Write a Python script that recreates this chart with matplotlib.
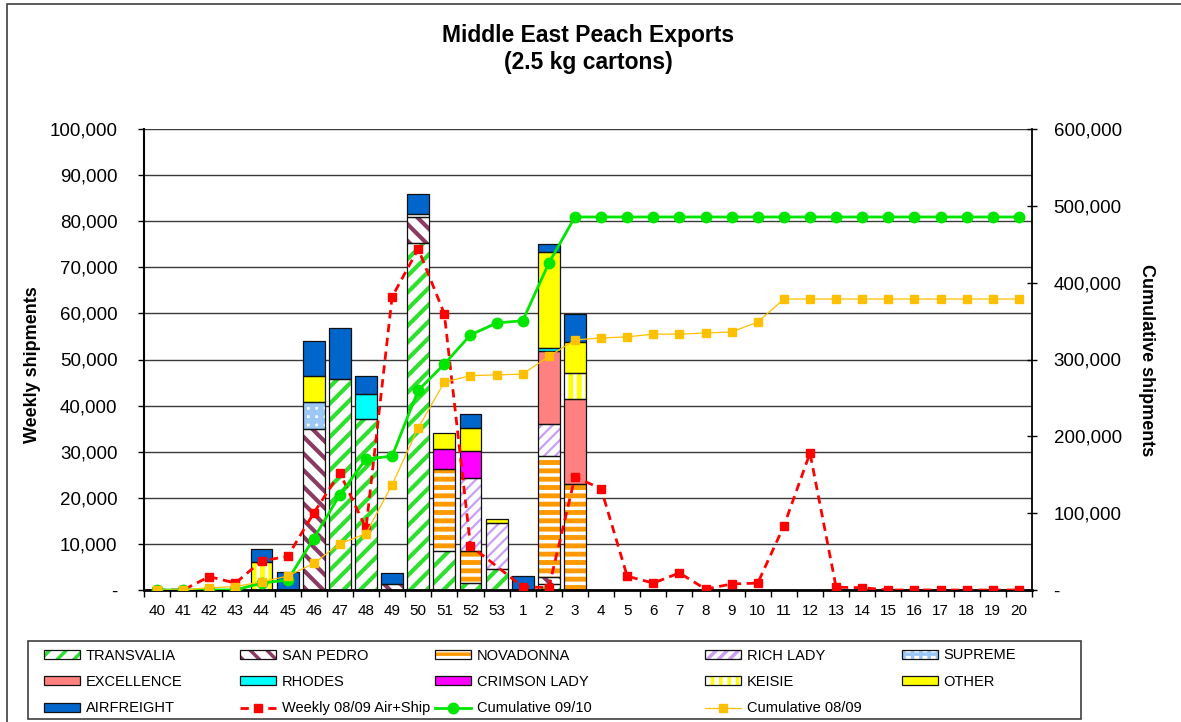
import numpy as np
import matplotlib
matplotlib.use("Agg")
import matplotlib.pyplot as plt
import matplotlib.patches as mpatches
from matplotlib.ticker import FuncFormatter

plt.rcParams["font.family"] = ["Liberation Sans", "DejaVu Sans"]
plt.rcParams["hatch.linewidth"] = 2.5

# week numbers (season 09/10)
weeks = [str(w) for w in list(range(40, 54)) + list(range(1, 21))]

# weekly shipments per variety (cartons), same order as weeks
transvalia = [0, 0, 0, 0, 0, 0, 0, 45800, 37000, 0, 75300, 8500, 1600, 4500, 0, 1300, 0] + [0] * 17
san_pedro = [0, 0, 0, 0, 0, 0, 35000, 0, 0, 1300, 5700, 0, 0, 0, 0, 1500, 0] + [0] * 17
novadonna = [0, 0, 0, 0, 0, 0, 0, 0, 0, 0, 600, 17700, 6900, 0, 0, 26300, 23000] + [0] * 17
rich_lady = [0, 0, 0, 0, 0, 0, 0, 0, 0, 0, 0, 0, 15800, 10000, 0, 6900, 0] + [0] * 17
supreme = [0, 0, 0, 0, 0, 0, 5800, 0, 0, 0, 0, 0, 0, 0, 0, 0, 0] + [0] * 17
excellence = [0, 0, 0, 0, 0, 0, 0, 0, 0, 0, 0, 0, 0, 0, 0, 15900, 18400] + [0] * 17
rhodes = [0, 0, 0, 0, 0, 0, 0, 0, 5500, 0, 0, 0, 0, 0, 0, 600, 0] + [0] * 17
crimson_lady = [0, 0, 0, 0, 0, 0, 0, 0, 0, 0, 0, 4400, 5900, 0, 0, 0, 0] + [0] * 17
keisie = [0, 0, 0, 0, 6000, 0, 0, 0, 0, 0, 0, 0, 0, 0, 0, 0, 5700] + [0] * 17
other = [0, 0, 0, 0, 0, 0, 5600, 0, 0, 0, 0, 3400, 4900, 1000, 0, 20800, 6700] + [0] * 17
airfreight = [0, 0, 0, 0, 3000, 4000, 7600, 11000, 4000, 2400, 4300, 0, 3100, 0, 3000, 1700, 6100] + [0] * 17

# previous season weekly (no week 53 in 08/09)
weekly_0809 = [0, 0, 2900, 1500, 6300, 7300, 16700, 25400, 13400, 63600, 74000, 59900, 9600, np.nan,
               700, 500, 24500, 22000, 3000, 1500, 3700, 200, 1300, 1500, 13900, 29700, 600, 500,
               0, 0, 0, 0, 0, 0]

# cumulative shipments (right axis)
cum_0910 = [0, 0, 0, 0, 9000, 13000, 67000, 124000, 170500, 174200, 260000, 294000, 332000, 347500,
            350500, 425500] + [485500] * 18
cum_0809 = [0, 0, 2900, 4400, 10700, 18000, 34700, 60100, 73500, 137000, 211000, 270500, 279000,
            280000, 281000, 304000, 325500, 328000, 329500, 333000, 333000, 334500, 335800, 348800] + [378700] * 10

# (label, values, face colour, hatch colour, hatch, hatch linewidth)
varieties = [
    ("TRANSVALIA", transvalia, "white", "#2EE02E", "//", 3.0),
    ("SAN PEDRO", san_pedro, "white", "#8B3A62", "\\\\", 3.0),
    ("NOVADONNA", novadonna, "white", "#FF9900", "--", 3.5),
    ("RICH LADY", rich_lady, "white", "#C9A0F5", "///", 1.6),
    ("SUPREME", supreme, "white", "#9CC8F5", "++", 4.0),
    ("EXCELLENCE", excellence, "#FF8080", None, None, 1.0),
    ("RHODES", rhodes, "#00FFFF", None, None, 1.0),
    ("CRIMSON LADY", crimson_lady, "#FF00FF", None, None, 1.0),
    ("KEISIE", keisie, "white", "#FFFF00", "||", 3.5),
    ("OTHER", other, "#FFFF00", None, None, 1.0),
    ("AIRFREIGHT", airfreight, "#0066CC", None, None, 1.0),
]


def hatch_lw(artists, lw):
    # per patch hatch width when the installed matplotlib supports it
    for a in artists:
        if hasattr(a, "set_hatch_linewidth"):
            a.set_hatch_linewidth(lw)


W, H = 1181, 722
fig = plt.figure(figsize=(W / 100, H / 100), dpi=100)
ax = fig.add_axes([144 / W, 1 - 590 / H, 888 / W, 461 / H])
ax2 = ax.twinx()

x = np.arange(len(weeks))
bar_w = 0.84
bottom = np.zeros(len(weeks))
handles = {}
for name, vals, face, hcol, hatch, hlw in varieties:
    vals = np.array(vals, dtype=float)
    m = vals > 0
    if hatch:
        bars = ax.bar(x[m], vals[m], bottom=bottom[m], width=bar_w, color=face,
                      edgecolor=hcol, hatch=hatch, linewidth=0, zorder=2)
        hatch_lw(bars, hlw)
        fill_h = mpatches.Patch(facecolor=face, edgecolor=hcol, hatch=hatch, linewidth=0)
        hatch_lw([fill_h], hlw)
    else:
        ax.bar(x[m], vals[m], bottom=bottom[m], width=bar_w, color=face, linewidth=0, zorder=2)
        fill_h = mpatches.Patch(facecolor=face, linewidth=0)
    ax.bar(x[m], vals[m], bottom=bottom[m], width=bar_w, fill=False,
           edgecolor="#111111", linewidth=0.9, zorder=3)
    edge_h = mpatches.Patch(fill=False, edgecolor="#111111", linewidth=0.9)
    handles[name] = (fill_h, edge_h)
    bottom += vals

# weekly 08/09 line (skip the missing week so the line stays connected)
wk = np.array(weekly_0809, dtype=float)
ok = ~np.isnan(wk)
red, = ax.plot(x[ok], wk[ok], color="#FF0000", ls=(0, (3, 2)), lw=2, marker="s",
               markersize=6, zorder=4)

green, = ax2.plot(x, cum_0910, color="#00E600", lw=2, marker="o", markersize=7.5, zorder=5)
orange, = ax2.plot(x, cum_0809, color="#FFC000", lw=0.9, marker="s", markersize=5.5, zorder=6)

# axes
ax.set_xlim(-0.5, len(weeks) - 0.5)
ax.set_ylim(0, 100000)
ax2.set_ylim(0, 600000)

dash_fmt = FuncFormatter(lambda v, p: "-" if v == 0 else f"{v:,.0f}")
ax.set_yticks(np.arange(0, 100001, 10000))
ax.yaxis.set_major_formatter(dash_fmt)
ax2.set_yticks(np.arange(0, 600001, 100000))
ax2.yaxis.set_major_formatter(dash_fmt)

ax.set_xticks(x)
ax.set_xticklabels(weeks)
ax.set_xticks(np.arange(-0.5, len(weeks)), minor=True)
ax.tick_params(axis="x", which="major", length=0, pad=10, labelsize=11)
ax.tick_params(axis="x", which="minor", length=5, width=1, color="black", direction="out")
ax.tick_params(axis="y", length=4, width=1, color="black", direction="out", pad=15, labelsize=13.5)
ax2.tick_params(axis="y", length=7, width=1, color="black", direction="inout", pad=12, labelsize=13.5)

ax.yaxis.grid(True, color="#3a3a3a", lw=1)
ax.set_axisbelow(True)

for s in ["top", "right"]:
    ax.spines[s].set_visible(False)
for s in ["top", "left", "bottom"]:
    ax2.spines[s].set_visible(False)
ax.spines["left"].set_linewidth(1.5)
ax.spines["bottom"].set_linewidth(2)
ax2.spines["right"].set_linewidth(1.3)

# titles and axis labels
fig.text(588 / W, 1 - 49 / H, "Middle East Peach Exports\n(2.5 kg cartons)", ha="center",
         va="center", fontsize=16.5, fontweight="bold", linespacing=1.2)
fig.text(33 / W, 1 - 365 / H, "Weekly shipments", rotation=90, ha="center", va="center",
         fontsize=13, fontweight="bold")
fig.text(1147 / W, 1 - 360 / H, "Cumulative shipments", rotation=270, ha="center", va="center",
         fontsize=13, fontweight="bold")

# outer chart border and legend box
fig.add_artist(mpatches.Rectangle((7 / W, -0.05), 1.1, 1.05 - 4 / H, transform=fig.transFigure,
                                  fill=False, edgecolor="#404040", lw=1.2))
fig.add_artist(mpatches.Rectangle((28 / W, 1 - 719 / H), (1081 - 28) / W, (719 - 641) / H,
                                  transform=fig.transFigure, fill=False, edgecolor="#404040", lw=1.2))

# legend drawn column by column so the columns line up like the original
columns = [
    (44, [handles["TRANSVALIA"], handles["EXCELLENCE"], handles["AIRFREIGHT"]],
     ["TRANSVALIA", "EXCELLENCE", "AIRFREIGHT"]),
    (240, [handles["SAN PEDRO"], handles["RHODES"], red],
     ["SAN PEDRO", "RHODES", "Weekly 08/09 Air+Ship"]),
    (435, [handles["NOVADONNA"], handles["CRIMSON LADY"], green],
     ["NOVADONNA", "CRIMSON LADY", "Cumulative 09/10"]),
    (705, [handles["RICH LADY"], handles["KEISIE"], orange],
     ["RICH LADY", "KEISIE", "Cumulative 08/09"]),
    (902, [handles["SUPREME"], handles["OTHER"]], ["SUPREME", "OTHER"]),
]
for xpix, hs, labs in columns:
    yc = 682 if len(hs) == 3 else 668.5
    fig.legend(hs, labs, loc="center left", bbox_to_anchor=(xpix / W, 1 - yc / H),
               frameon=False, fontsize=10.5, borderpad=0, borderaxespad=0,
               handlelength=2.5, handleheight=0.6, handletextpad=0.35, labelspacing=0.85)

fig.savefig("out.png", dpi=100)
